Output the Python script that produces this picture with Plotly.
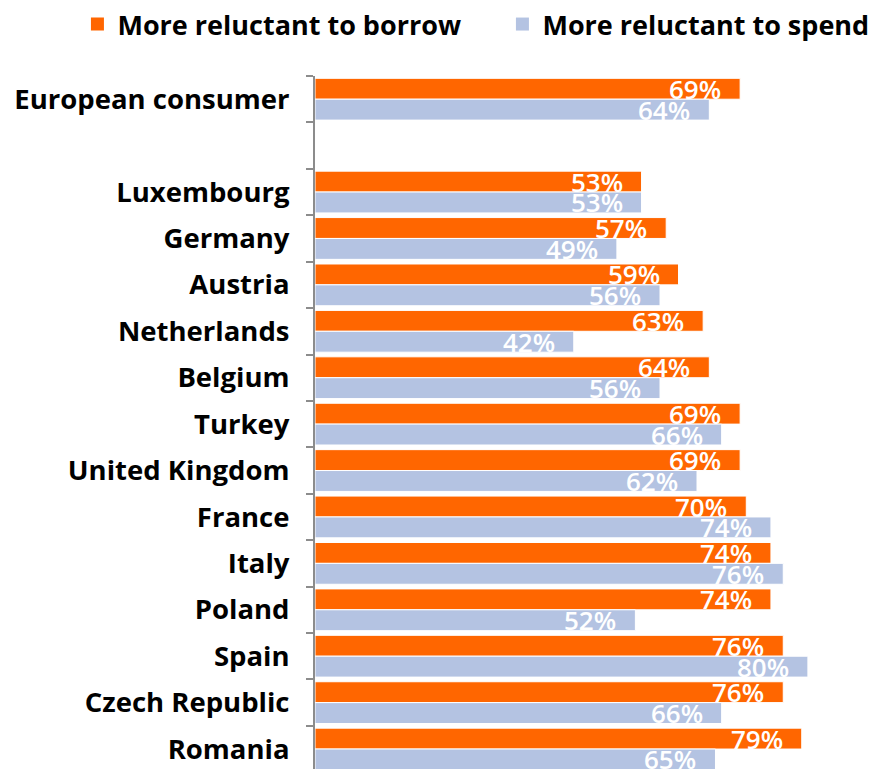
import plotly.graph_objects as go

categories = ["European consumer", " ", "Luxembourg", "Germany", "Austria", "Netherlands",
              "Belgium", "Turkey", "United Kingdom", "France", "Italy", "Poland",
              "Spain", "Czech Republic", "Romania"]
borrow = [69, None, 53, 57, 59, 63, 64, 69, 69, 70, 74, 74, 76, 76, 79]
spend = [64, None, 53, 49, 56, 42, 56, 66, 62, 74, 76, 52, 80, 66, 65]
series_names = ["More reluctant to borrow", "More reluctant to spend"]
colors = ["#FF6600", "#B4C3E2"]
legend_ids = ["legend", "legend2"]
legend_x = [0.0872, 0.5658]

W, H = 888, 769
M_L, M_T = 315, 76
Y_RANGE = [14.43, -0.5]
BARGAP = 0.1

fig = go.Figure()
for name, vals, col, lid in zip(series_names, [borrow, spend], colors, legend_ids):
    fig.add_trace(go.Bar(
        y=categories, x=vals, orientation="h", name=name,
        marker=dict(color=col, line=dict(color="white", width=1)),
        showlegend=False, hoverinfo="skip"))
    # legend proxy with square marker
    fig.add_trace(go.Scatter(
        x=[None], y=[None], mode="markers", name=name, legend=lid,
        marker=dict(symbol="square", size=13, color=col), showlegend=True))

plot_h = H - M_T
pitch = plot_h / (Y_RANGE[0] - Y_RANGE[1])
shift = pitch * (1 - BARGAP) / 4

for vals, sgn in [(borrow, 1), (spend, -1)]:
    for c, v in zip(categories, vals):
        if v is None:
            continue
        fig.add_annotation(
            x=v, y=c, xref="x", yref="y", text=f"{v}%", showarrow=False,
            xanchor="right", yanchor="middle", xshift=-17, yshift=sgn * shift,
            font=dict(family="Open Sans", size=26, color="white", weight=600))

legend_style = dict(orientation="h", xref="container", yref="container",
                    y=1.0, xanchor="left", yanchor="top",
                    font=dict(family="Open Sans", size=27, color="black", weight="bold"),
                    itemwidth=30, bgcolor="rgba(0,0,0,0)")

fig.update_layout(
    width=W, height=H,
    margin=dict(l=M_L, r=0, t=M_T, b=0, autoexpand=False),
    plot_bgcolor="white", paper_bgcolor="white",
    barmode="group", bargap=BARGAP, bargroupgap=0,
    font=dict(family="Open Sans", color="black"),
    legend=dict(x=legend_x[0], **legend_style),
    legend2=dict(x=legend_x[1], **legend_style),
    xaxis=dict(range=[0, 93], showgrid=False, zeroline=False, showline=False,
               showticklabels=False, ticks=""),
    yaxis=dict(type="category", categoryorder="array", categoryarray=categories,
               range=Y_RANGE, showgrid=False, zeroline=False,
               showline=True, linecolor="#8C8C8C", linewidth=2,
               ticks="outside", tickson="boundaries", ticklen=7, tickcolor="#8C8C8C",
               tickwidth=2, ticklabelstandoff=18,
               tickfont=dict(family="Open Sans", size=27.5, color="black", weight="bold")),
)

fig.write_html("out.html")
